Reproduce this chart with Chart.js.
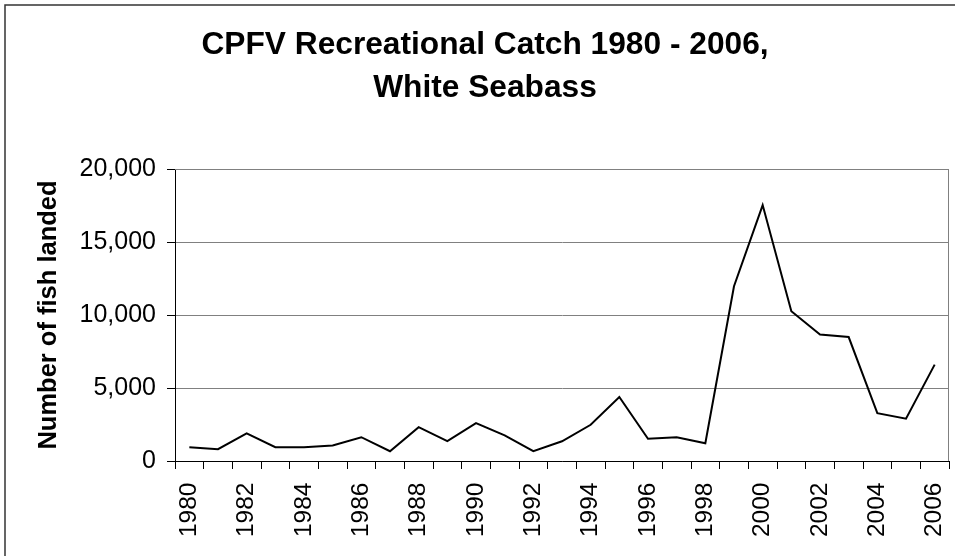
<!DOCTYPE html>
<html><head><meta charset="utf-8">
<script src="https://cdn.jsdelivr.net/npm/chart.js@4"></script>
<style>
html,body{margin:0;padding:0;background:#fff;overflow:hidden;}
canvas{display:block;}
</style></head><body>
<canvas id="c" width="955" height="556"></canvas>
<script>
const titleLines = ['CPFV Recreational Catch 1980 - 2006,', 'White Seabass'];
const yAxisTitle = 'Number of fish landed';
const years = ['1980','1981','1982','1983','1984','1985','1986','1987','1988','1989',
  '1990','1991','1992','1993','1994','1995','1996','1997','1998','1999',
  '2000','2001','2002','2003','2004','2005','2006'];
const fishLanded = [950, 810, 1900, 950, 950, 1060, 1630, 670, 2320, 1360,
  2590, 1750, 670, 1350, 2480, 4380, 1520, 1630, 1220, 11970,
  17530, 10260, 8660, 8490, 3280, 2900, 6600];
const yTickValues = [0, 5000, 10000, 15000, 20000];

const FONT = "'Liberation Sans', Arial, sans-serif";
const PAD_LEFT = 21;
const PLOT_LEFT = 175, PLOT_BOTTOM = 461, PLOT_RIGHT = 949;

const frame = {
  id: 'frame',
  beforeDraw(chart) {
    const ctx = chart.ctx;
    ctx.save();
    ctx.fillStyle = '#fff';
    ctx.fillRect(0, 0, chart.width, chart.height);
    ctx.strokeStyle = '#333';
    ctx.lineWidth = 1.5;
    ctx.strokeRect(5, 5, chart.width + 20, chart.height + 20);
    ctx.restore();
  },
  beforeDatasetsDraw(chart) {
    const {left, right, top, bottom} = chart.chartArea;
    const ctx = chart.ctx;
    ctx.save();
    ctx.strokeStyle = '#808080';
    ctx.lineWidth = 1;
    ctx.beginPath();
    ctx.moveTo(left, top + 0.5);
    ctx.lineTo(right - 0.5, top + 0.5);
    ctx.lineTo(right - 0.5, bottom);
    ctx.stroke();
    ctx.restore();
  }
};

new Chart(document.getElementById('c'), {
  type: 'line',
  data: {
    labels: years,
    datasets: [{
      data: fishLanded,
      borderColor: '#000',
      borderWidth: 2,
      pointRadius: 0,
      tension: 0,
      fill: false
    }]
  },
  options: {
    responsive: false,
    animation: false,
    layout: {padding: {left: PAD_LEFT, right: 955 - PLOT_RIGHT, top: 0, bottom: 0}},
    plugins: {
      legend: {display: false},
      tooltip: {enabled: false},
      title: {
        display: true,
        text: titleLines,
        color: '#000',
        font: {family: FONT, size: 31.7, weight: 'bold', lineHeight: 43 / 31.7},
        padding: {top: 23.5, bottom: 59.5}
      }
    },
    scales: {
      x: {
        type: 'category',
        offset: true,
        grid: {display: true, offset: true, drawOnChartArea: false, drawTicks: true,
               tickLength: 8, tickColor: '#000', color: '#000', lineWidth: 1},
        border: {display: true, color: '#000', width: 1},
        ticks: {
          autoSkip: false, minRotation: 90, maxRotation: 90, padding: 13.5,
          color: '#000', font: {family: FONT, size: 24.5},
          callback: (v, i) => (i % 2 === 0 ? years[i] : '')
        },
        afterFit(s) { s.height = 556 - PLOT_BOTTOM; s.paddingLeft = 0; s.paddingRight = 0; }
      },
      y: {
        min: yTickValues[0],
        max: yTickValues[yTickValues.length - 1],
        afterBuildTicks(s) { s.ticks = yTickValues.map(v => ({value: v})); },
        grid: {color: '#808080', tickColor: '#000', tickLength: 8, lineWidth: 1},
        border: {color: '#000', width: 1},
        ticks: {
          padding: 11,
          color: '#000',
          font: {family: FONT, size: 25},
          callback: v => Number(v).toLocaleString('en-US')
        },
        title: {
          display: true, text: yAxisTitle, color: '#000',
          font: {family: FONT, size: 25.5, weight: 'bold'},
          padding: {top: 49 - PAD_LEFT - 15.3, bottom: 0}
        },
        afterFit(s) { s.width = PLOT_LEFT - PAD_LEFT; }
      }
    }
  },
  plugins: [frame]
});
</script>
</body></html>
